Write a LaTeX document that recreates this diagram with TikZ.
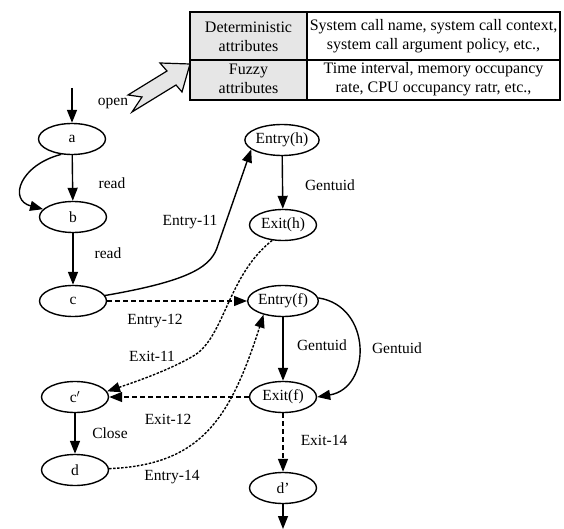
\documentclass[tikz,border=0pt]{standalone}
\usepackage{fontspec}
\setmainfont{Liberation Serif}
\usetikzlibrary{shapes.geometric,arrows.meta}
\definecolor{tgray}{HTML}{E6E6E6}
\begin{document}
\begin{tikzpicture}[x=1pt,y=-1pt,
  gnode/.style={ellipse, draw, line width=1.4pt, minimum width=67pt, minimum height=31pt, inner sep=0pt, font=\fontsize{15.5}{17}\selectfont},
  lbl/.style={font=\fontsize{15.5}{17}\selectfont, inner sep=0pt},
  tabtxt/.style={font=\fontsize{16}{19}\selectfont, align=center, inner sep=0pt},
  arr/.style={-{Triangle[length=13pt,width=10pt]}, line width=1.4pt},
  dsh/.style={dash pattern=on 5pt off 3pt},
  dtt/.style={dash pattern=on 2.5pt off 1.5pt}]
\useasboundingbox (0,0) rectangle (564,529);

% table
\fill[tgray] (190,12) rectangle (307,100);
\draw[line width=1.5pt] (190,12) rectangle (560,100);
\draw[line width=1.5pt] (307,12) -- (307,100);
\draw[line width=1.5pt] (190,60) -- (560,60);
\node[tabtxt] (t1) at (248.5,36.5) {Deterministic\\attributes};
\node[tabtxt] (t2) at (433.5,36.5) {System call name, system call context,\\system call argument policy, etc.,};
\node[tabtxt] (t3) at (248.5,79) {Fuzzy\\attributes};
\node[tabtxt] (t4) at (433.5,79) {Time interval, memory occupancy\\rate, CPU occupancy ratr, etc.,};

% big outline arrow
\draw[line width=1.2pt, fill=tgray, line join=miter] (190,64) -- (160,63) -- (167,71) -- (128,95) -- (142,97) -- (132,112) -- (176,85) -- (182,92) -- cycle;
\node[lbl] (open) at (113,104) {open};

% nodes
\node[gnode] (a) at (72,139) {a};
\node[gnode] (b) at (73,217) {b};
\node[gnode] (c) at (73,301) {c};
\node[gnode] (cp) at (75,397) {c$'$};
\node[gnode] (d) at (75,470) {d};
\node[gnode] (eh) at (282,140) {Entry(h)};
\node[gnode] (xh) at (283,225) {Exit(h)};
\node[gnode] (ef) at (283,301) {Entry(f)};
\node[gnode] (xf) at (283,397) {Exit(f)};
\node[gnode] (dp) at (283,488) {d'};
\coordinate (top) at (72,88);
\coordinate (bot) at (283,529);
\coordinate (k1) at (218,245);

% edges
\draw[arr] (top) -- (a);
\draw[arr] (a) -- (b);
\draw[arr] (a.235) .. controls (20,165) and (8,200) .. (b);
\draw[arr] (b) -- (c);
\draw[arr] (c) .. controls (195,280) and (212,265) .. (k1) -- (eh.197);
\draw[arr,dsh] (c) -- (ef);
\draw[arr,dtt] (xh.235) .. controls (228,275) and (225,335) .. (195,355) .. controls (170,370) and (135,382) .. (cp.10);
\draw[arr,dsh] (xf) -- (cp);
\draw[arr] (cp) -- (d);
\draw[arr,dtt] (d) .. controls (200,465) and (230,420) .. (ef.215);
\draw[arr] (eh) -- (xh);
\draw[arr] (ef) -- (xf);
\draw[arr] (ef.5) .. controls (372,306) and (372,388) .. (xf.east);
\draw[arr,dsh] (xf) -- (dp);
\draw[arr] (dp) -- (bot);

% labels
\node[lbl] at (112,183) {read};
\node[lbl] at (108,253) {read};
\node[lbl] at (190,222) {Entry-11};
\node[lbl] at (330,185) {Gentuid};
\node[lbl] at (155,321) {Entry-12};
\node[lbl] at (152,356) {Exit-11};
\node[lbl] at (168,419) {Exit-12};
\node[lbl] at (110,433) {Close};
\node[lbl] at (172,477) {Entry-14};
\node[lbl] at (322,345) {Gentuid};
\node[lbl] at (397,348) {Gentuid};
\node[lbl] at (324,440) {Exit-14};
\end{tikzpicture}
\end{document}
